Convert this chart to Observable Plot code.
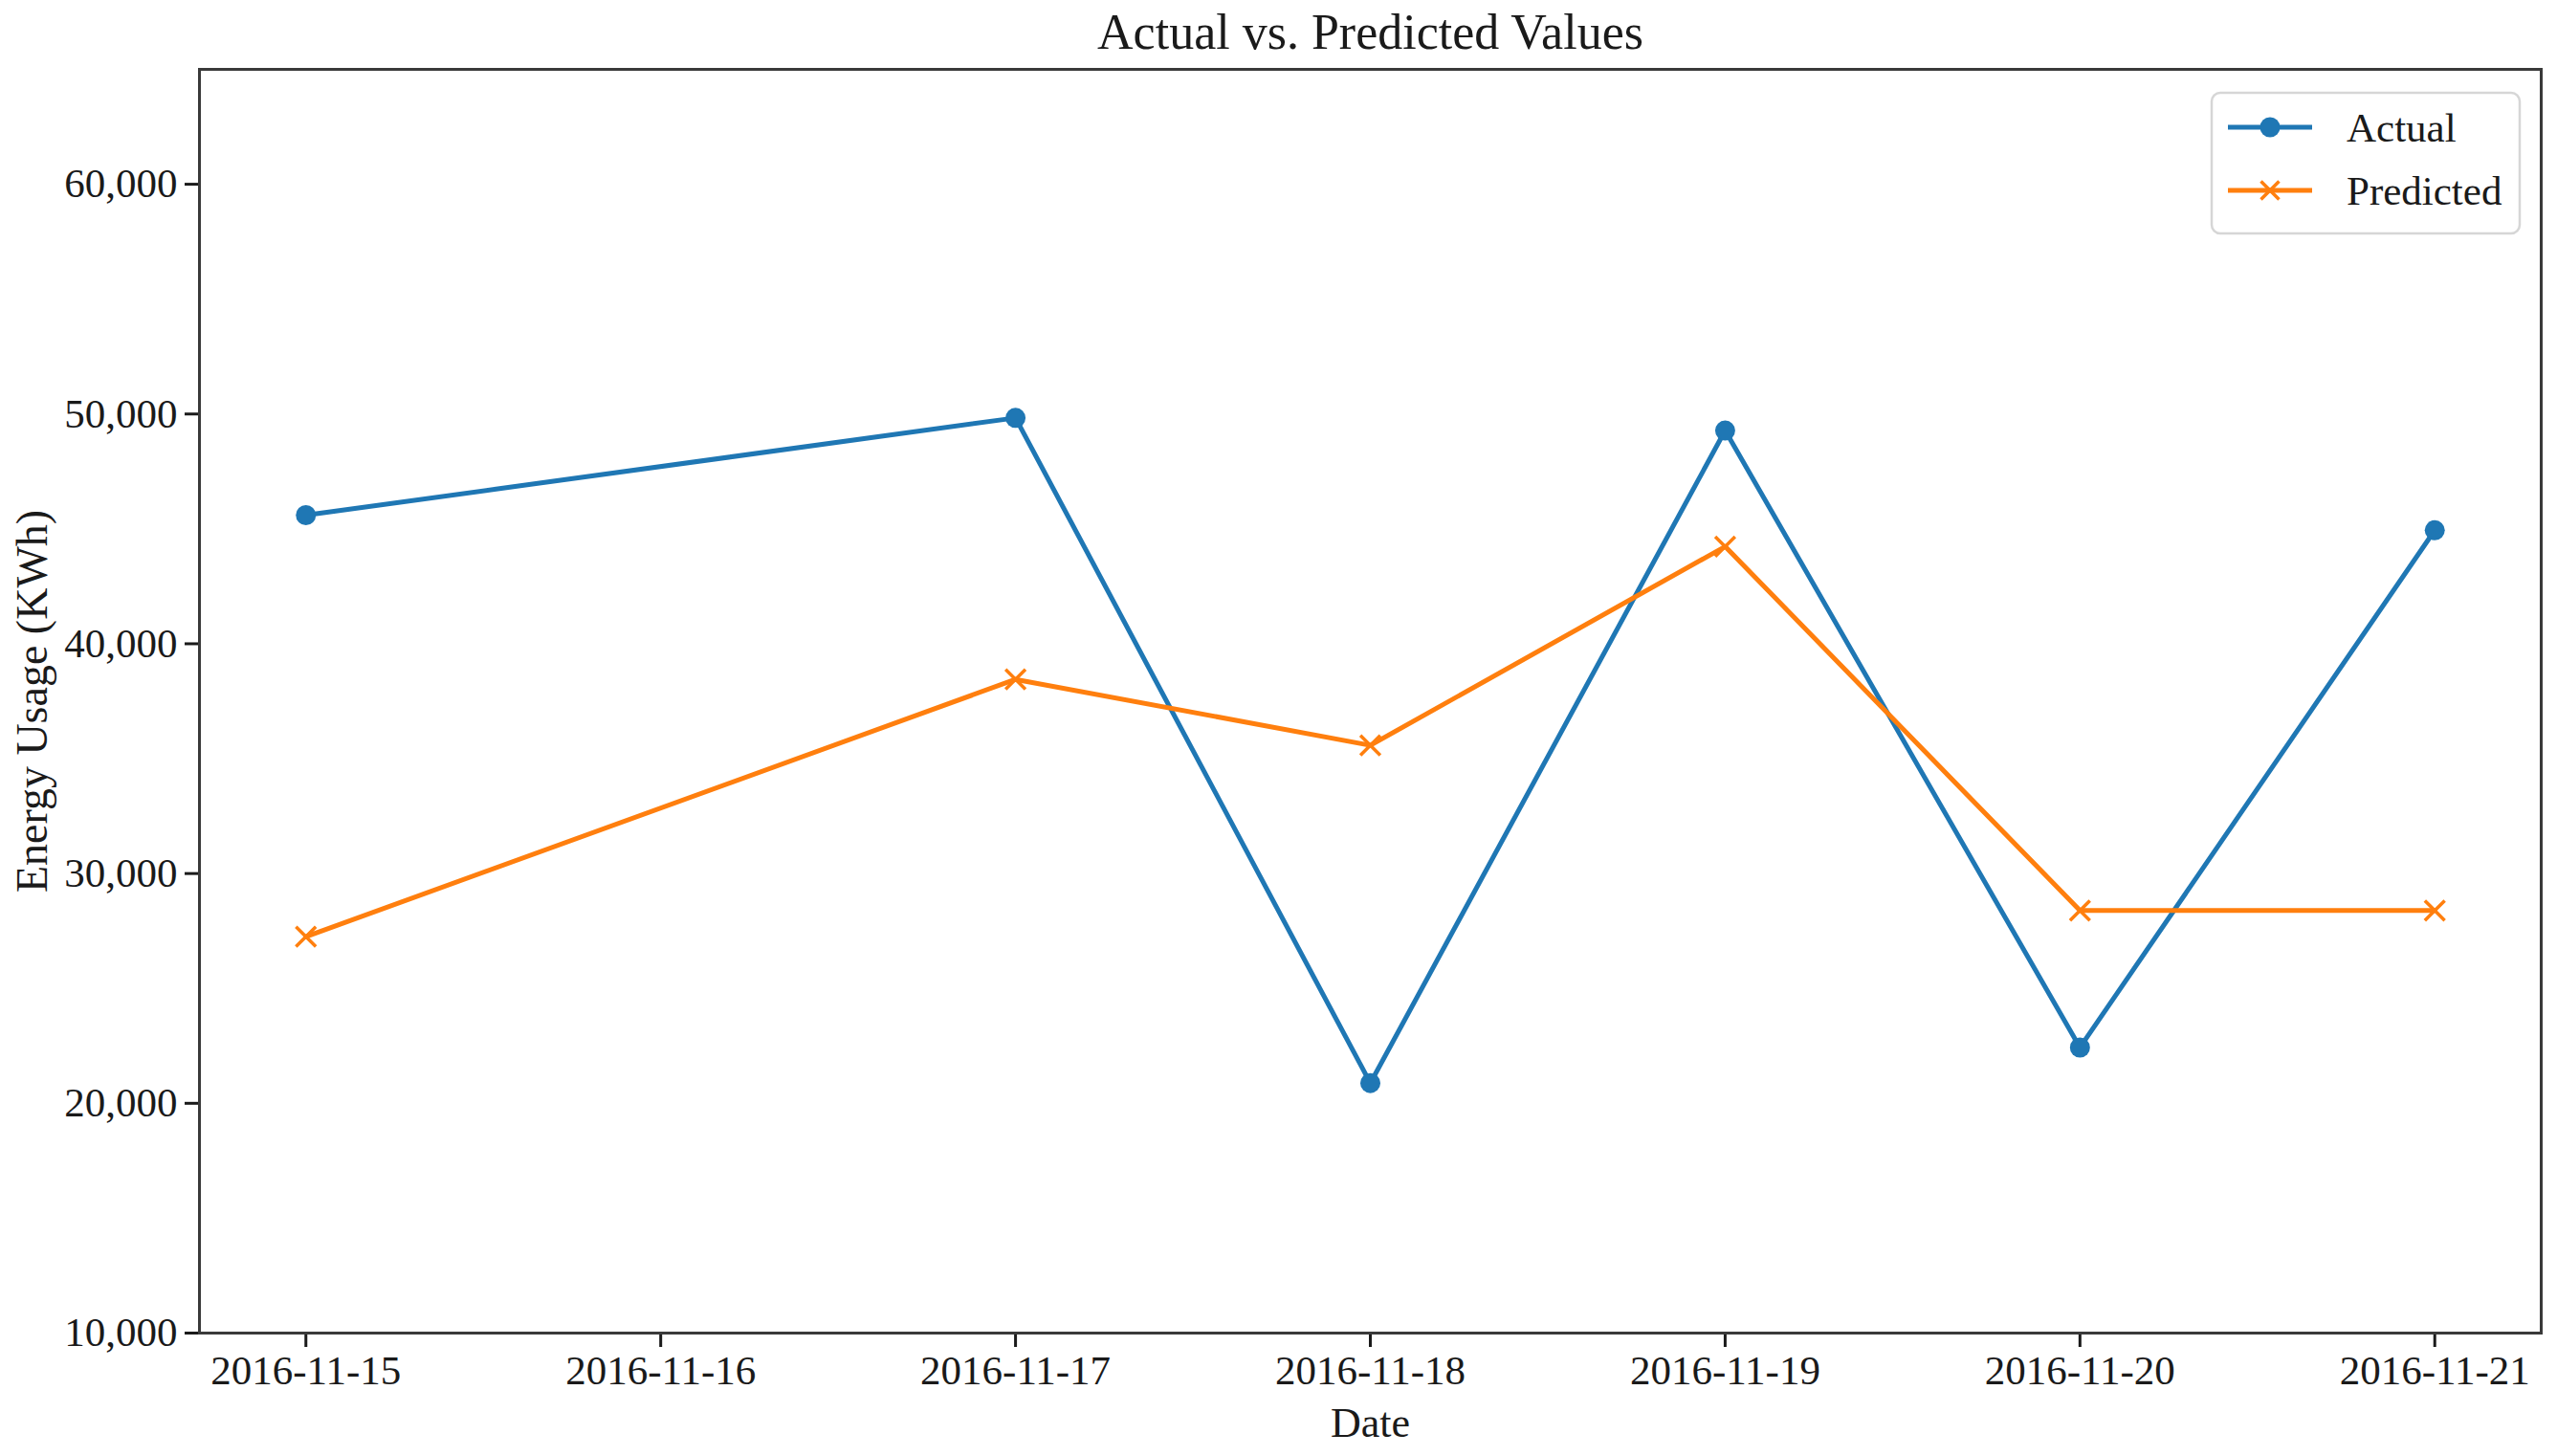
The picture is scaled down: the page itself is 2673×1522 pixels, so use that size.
<!DOCTYPE html>
<html>
<head>
<meta charset="utf-8">
<script src="https://cdn.jsdelivr.net/npm/d3@7"></script>
<script src="https://cdn.jsdelivr.net/npm/@observablehq/plot@0.6"></script>
<style>
  html, body { margin: 0; padding: 0; background: #fff; }
  #chart svg { display: block; }
</style>
</head>
<body>
<div id="chart"></div>
<script>
// ---- data ----
const dates = ["2016-11-15", "2016-11-17", "2016-11-18", "2016-11-19", "2016-11-20", "2016-11-21"];
const actual = [45600, 49830, 20880, 49280, 22430, 44940];
const predicted = [27250, 38450, 35580, 44230, 28390, 28390];
const xTickLabels = ["2016-11-15", "2016-11-16", "2016-11-17", "2016-11-18", "2016-11-19", "2016-11-20", "2016-11-21"];
const yTicks = [10000, 20000, 30000, 40000, 50000, 60000];
const seriesNames = ["Actual", "Predicted"];
const seriesColors = ["#1f77b4", "#ff7f0e"];
const titleText = "Actual vs. Predicted Values";
const xLabel = "Date";
const yLabel = "Energy Usage (KWh)";

const parse = d3.utcParse("%Y-%m-%d");
const rowsA = dates.map((d, i) => ({date: parse(d), value: actual[i]}));
const rowsP = dates.map((d, i) => ({date: parse(d), value: predicted[i]}));
const xTicks = xTickLabels.map(parse);
const day = 864e5;
const xDomain = [new Date(+xTicks[0] - 0.3 * day), new Date(+xTicks[xTicks.length - 1] + 0.3 * day)];

const W = 2673, H = 1522;
const mL = 208, mR = 17, mT = 72, mB = 129;

const plot = Plot.plot({
  width: W,
  height: H,
  marginLeft: mL,
  marginRight: mR,
  marginTop: mT,
  marginBottom: mB,
  style: {fontFamily: "'Liberation Serif', 'Times New Roman', serif", fontSize: "43px", color: "#1a1a1a", background: "#fff"},
  x: {type: "utc", domain: xDomain},
  y: {domain: [10000, 65000]},
  marks: [
    Plot.axisX({ticks: xTicks, tickFormat: d3.utcFormat("%Y-%m-%d"), tickSize: 15, tickPadding: 8, strokeWidth: 3, fontSize: 43, label: null}),
    Plot.axisY({ticks: yTicks, tickFormat: d3.format(","), tickSize: 15, tickPadding: 8, strokeWidth: 3, fontSize: 43, label: null}),
    Plot.line(rowsA, {x: "date", y: "value", stroke: seriesColors[0], strokeWidth: 5}),
    Plot.line(rowsP, {x: "date", y: "value", stroke: seriesColors[1], strokeWidth: 5}),
    Plot.dot(rowsA, {x: "date", y: "value", fill: seriesColors[0], r: 10.5, symbol: "circle"}),
    Plot.dot(rowsP, {x: "date", y: "value", stroke: seriesColors[1], strokeWidth: 3.5, r: 9.5, symbol: "times"}),
    Plot.frame({stroke: "#3a3a3a", strokeWidth: 3}),
    Plot.text([titleText], {frameAnchor: "top", dy: -38, lineAnchor: "middle", fontSize: 52, fill: "#1a1a1a"}),
    Plot.text([xLabel], {frameAnchor: "bottom", dy: 94, lineAnchor: "middle", fontSize: 44, fill: "#1a1a1a"}),
    Plot.text([yLabel], {frameAnchor: "left", dx: -174, rotate: -90, lineAnchor: "middle", textAnchor: "middle", fontSize: 46, fill: "#1a1a1a"})
  ]
});

document.getElementById("chart").appendChild(plot);

// ---- legend (inside axes, upper right) ----
const svg = d3.select(plot);
const lg = svg.append("g")
  .attr("font-family", "'Liberation Serif', 'Times New Roman', serif")
  .attr("font-size", 43)
  .attr("text-anchor", "start");
lg.append("rect")
  .attr("x", 2312).attr("y", 97).attr("width", 322).attr("height", 147)
  .attr("rx", 9).attr("ry", 9)
  .attr("fill", "#fff").attr("fill-opacity", 0.8)
  .attr("stroke", "#d6d6d6").attr("stroke-width", 2.5);
const rowY = [133, 199];
seriesNames.forEach((name, i) => {
  const y = rowY[i];
  lg.append("line").attr("x1", 2329).attr("x2", 2417).attr("y1", y).attr("y2", y)
    .attr("stroke", seriesColors[i]).attr("stroke-width", 5);
  if (i === 0) {
    lg.append("circle").attr("cx", 2373).attr("cy", y).attr("r", 10.5).attr("fill", seriesColors[i]);
  } else {
    const s = 9.5;
    lg.append("path").attr("d", `M${2373 - s},${y - s}L${2373 + s},${y + s}M${2373 - s},${y + s}L${2373 + s},${y - s}`)
      .attr("stroke", seriesColors[i]).attr("stroke-width", 3.5).attr("fill", "none");
  }
  lg.append("text").attr("x", 2453).attr("y", y).attr("dy", "0.35em").attr("fill", "#1a1a1a").attr("text-anchor", "start").text(name);
});
</script>
</body>
</html>
